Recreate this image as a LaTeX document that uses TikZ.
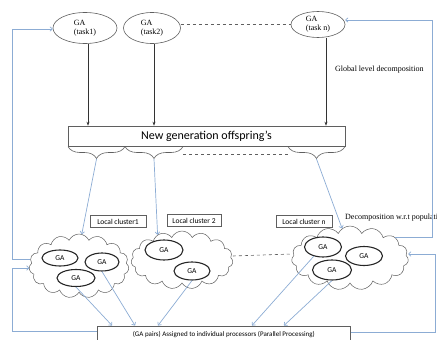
\documentclass[tikz,border=0pt]{standalone}
\usepackage{fontspec}
\setmainfont{Liberation Serif}
\newfontfamily\calib{Carlito}
\usetikzlibrary{shapes.symbols,shapes.geometric,decorations.pathreplacing,arrows.meta,calc}
\definecolor{fbblue}{RGB}{140,172,212}
\definecolor{outl}{RGB}{95,95,95}
\begin{document}
\begin{tikzpicture}[x=1pt,y=-1pt,
  taskell/.style={ellipse, draw=outl, line width=0.6pt, inner sep=0pt, align=left, font=\fontsize{8}{9}\selectfont},
  gaell/.style={ellipse, draw=black!85, line width=1.1pt, inner sep=0pt, font=\calib\fontsize{7.5}{8}\selectfont},
  cloudy/.style={cloud, cloud puffs=15, cloud puff arc=130, draw=outl, line width=0.5pt, inner sep=0pt},
  blk/.style={draw=black!80, line width=0.6pt, -{Stealth[length=4pt,width=3pt]}},
  bl/.style={draw=fbblue, line width=0.7pt},
  bla/.style={bl, -{To[length=3pt,width=5pt]}},
  dsh/.style={draw=outl, line width=0.6pt, dashed},
  bracestyle/.style={draw=outl, line width=0.6pt, decorate, decoration={brace, mirror, amplitude=12pt}},
  lbl/.style={draw=outl, line width=0.5pt, font=\calib\fontsize{7.5}{8}\selectfont, inner sep=1.5pt, minimum height=12pt},
  txt/.style={anchor=west, font=\fontsize{8}{9}\selectfont, inner sep=0pt},
]
\useasboundingbox (0,0) rectangle (437,340);
\clip (0,0) rectangle (437,340);

% top GA task ellipses
\node[taskell, minimum width=64pt, minimum height=31pt] (t1) at (85,28) {GA\\(task1)};
\node[taskell, minimum width=57pt, minimum height=31pt] (t2) at (152,28) {GA\\(task2)};
\node[taskell, minimum width=54pt, minimum height=26pt] (tn) at (318,24.5) {GA\\(task n)};
\draw[dsh] (t2.east |- tn.west) -- (tn.west);

\node[txt] (gl) at (335,70) {Global level decomposition};

% new generation box
\node[draw=outl, line width=0.6pt, minimum width=277pt, minimum height=20pt,
      font=\calib\fontsize{12}{14}\selectfont] (ng) at (206.5,136) {New generation offspring’s};

\draw[blk] ([xshift=3pt]t1.south) -- ([xshift=3pt]t1.south |- ng.north);
\draw[blk] ([xshift=2pt]t2.south) -- ([xshift=2pt]t2.south |- ng.north);
\draw[blk] ([xshift=8pt]tn.south) -- ([xshift=8pt]tn.south |- ng.north);

% braces
\draw[bracestyle] (68,146.5) -- (125,146.5);
\draw[bracestyle] (125,146.5) -- (183,146.5);
\draw[bracestyle] (288,146.5) -- (345,146.5);
\draw[dsh] (183,154) -- (288,154);
\coordinate (tip1) at (96.5,159);
\coordinate (tip2) at (154,159);
\coordinate (tip3) at (316.5,159);

% clouds
\node[cloudy, minimum width=100pt, minimum height=64pt] (c1) at (79,266) {};
\node[cloudy, minimum width=102pt, minimum height=58pt] (c2) at (182,260) {};
\node[cloudy, minimum width=117pt, minimum height=64pt] (cn) at (350,258) {};
\draw[dsh] ([yshift=4pt]c2.east) -- ([yshift=4pt]cn.west);

% local cluster labels
\node[lbl, minimum width=56pt] (lc1) at (118,221.5) {Local cluster1};
\node[lbl, minimum width=54pt] (lc2) at (194,220.5) {Local cluster 2};
\node[lbl, minimum width=56pt] (lcn) at (304,221.5) {Local cluster n};
\node[txt] (dp) at (345,218) {Decomposition w.r.t population};

\draw[bla] (tip1) -- (c1.85);
\draw[bla] (tip2) -- (c2.134);
\draw[bla] (tip3) -- (cn.105);

% GA ellipses in clouds
\node[gaell, minimum width=36pt, minimum height=16pt] (g11) at (60,258) {GA};
\node[gaell, minimum width=34pt, minimum height=18pt] (g12) at (102,262) {GA};
\node[gaell, minimum width=38pt, minimum height=17pt] (g13) at (76,278) {GA};
\node[gaell, minimum width=38pt, minimum height=20pt] (g21) at (164,250) {GA};
\node[gaell, minimum width=36pt, minimum height=18pt] (g22) at (192,271) {GA};
\node[gaell, minimum width=37pt, minimum height=20pt] (gn1) at (323,247) {GA};
\node[gaell, minimum width=37pt, minimum height=19pt] (gn2) at (364,256) {GA};
\node[gaell, minimum width=39pt, minimum height=20pt] (gn3) at (332,270) {GA};

% processors box
\node[draw=outl, line width=0.6pt, minimum width=253pt, minimum height=17pt, anchor=north west,
      font=\calib\fontsize{7}{8}\selectfont] (pr) at (97,325.5)
      {(GA pairs) Assigned to individual processors (Parallel Processing)};

\draw[bla] (g13.south) -- ([xshift=15pt]pr.north west);
\draw[bla] (g12.south) -- ([xshift=38pt]pr.north west);
\draw[bla] (g22.south) -- ([xshift=61pt]pr.north west);
\draw[bla] (gn1.225) -- ([xshift=155pt]pr.north west);
\draw[bla] (gn3.south) -- ([xshift=187pt]pr.north west);

% feedback loops
\coordinate (L1) at (12,29);
\coordinate (L2) at (12,268);
\coordinate (R1) at (432,20);
\coordinate (R2) at (435,254);
\draw[bla] (c1.172) -| (L1) -- (L1 -| t1.west);
\draw[bla] ([yshift=-6pt]pr.north west) -| (L2) -- (L2 -| c1.west);
\draw[bla] (cn.25) -| (R1) -- (R1 -| tn.east);
\draw[bla] ([yshift=-7pt]pr.north east) -| (R2) -- (R2 -| cn.east);
\end{tikzpicture}
\end{document}
